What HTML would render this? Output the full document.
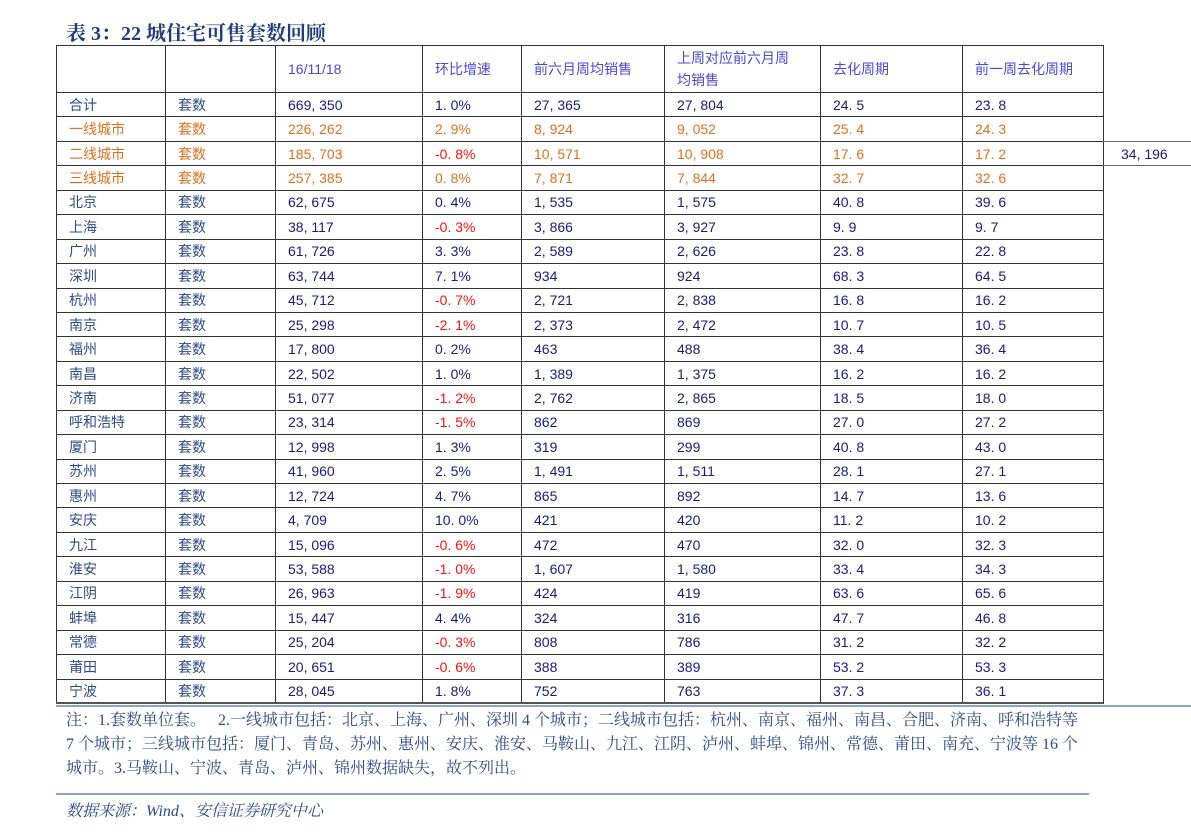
<!DOCTYPE html>
<html><head><meta charset="utf-8">
<style>
body{margin:0;width:1191px;height:836px;background:#fff;font-family:"Liberation Sans","Noto Sans CJK SC",sans-serif;position:relative;overflow:hidden}
#title{position:absolute;left:66px;top:17px;font-size:20px;font-weight:bold;color:#1f3d7a;font-family:"Liberation Serif","Noto Serif CJK SC",serif}
table{position:absolute;left:56px;top:45px;border-collapse:collapse;table-layout:fixed}
td{border:1.5px solid #333;font-size:14px;padding:0 0 0 12px;height:23.45px;white-space:nowrap;color:#1a1a80}
td.lab{color:#2d4a8a}
tr.hd td{height:46px;color:#4a4ad8;font-size:14px;line-height:22px;vertical-align:middle}
tr.or td{color:#e07020}
td.neg{color:#ff1010!important}
#extra{position:absolute;left:1103px;top:141px;width:88px;height:25px;border-top:1.5px solid #666;border-bottom:1.5px solid #666;font-size:14px;color:#1a1a80;line-height:25px;padding-left:18px;box-sizing:border-box}
#rule1{position:absolute;left:56px;top:702px;width:1047px;height:2px;background:#555}
#rule1b{position:absolute;left:56px;top:705px;width:1135px;height:2px;background:#8aa6d0}
.note{position:absolute;left:66px;font-size:16px;color:#2d4a8a;font-family:"Liberation Serif","Noto Serif CJK SC",serif;white-space:nowrap}
#rule2{position:absolute;left:56px;top:793px;width:1033px;height:2px;background:#8aa6d0}
#src{position:absolute;left:66px;top:798px;font-size:16px;color:#2d4a8a;font-style:italic;font-family:"Liberation Serif","Noto Serif CJK SC",serif}
</style></head><body>
<div id="title">表 3：22 城住宅可售套数回顾</div>
<table id="tbl">
<colgroup><col style="width:109px"><col style="width:110px"><col style="width:147px"><col style="width:99px"><col style="width:143px"><col style="width:156px"><col style="width:142px"><col style="width:141px"></colgroup>
<tr class="hd"><td></td><td></td><td>16/11/18</td><td>环比增速</td><td>前六月周均销售</td><td>上周对应前六月周<br>均销售</td><td>去化周期</td><td>前一周去化周期</td></tr>
</table>
<div id="extra">34, 196</div>
<div id="rule1"></div>
<div id="rule1b"></div>
<div class="note" style="top:707px">注：1.套数单位套。&nbsp;&nbsp; 2.一线城市包括：北京、上海、广州、深圳 4 个城市；二线城市包括：杭州、南京、福州、南昌、合肥、济南、呼和浩特等</div>
<div class="note" style="top:731px">7 个城市；三线城市包括：厦门、青岛、苏州、惠州、安庆、淮安、马鞍山、九江、江阴、泸州、蚌埠、锦州、常德、莆田、南充、宁波等 16 个</div>
<div class="note" style="top:755px">城市。3.马鞍山、宁波、青岛、泸州、锦州数据缺失，故不列出。</div>
<div id="rule2"></div>
<div id="src">数据来源：Wind、安信证券研究中心</div>
<script>
const cities=["合计","一线城市","二线城市","三线城市","北京","上海","广州","深圳","杭州","南京","福州","南昌","济南","呼和浩特","厦门","苏州","惠州","安庆","九江","淮安","江阴","蚌埠","常德","莆田","宁波"];
const stock=["669, 350","226, 262","185, 703","257, 385","62, 675","38, 117","61, 726","63, 744","45, 712","25, 298","17, 800","22, 502","51, 077","23, 314","12, 998","41, 960","12, 724","4, 709","15, 096","53, 588","26, 963","15, 447","25, 204","20, 651","28, 045"];
const growth=["1.0%","2.9%","-0.8%","0.8%","0.4%","-0.3%","3.3%","7.1%","-0.7%","-2.1%","0.2%","1.0%","-1.2%","-1.5%","1.3%","2.5%","4.7%","10.0%","-0.6%","-1.0%","-1.9%","4.4%","-0.3%","-0.6%","1.8%"];
const sales6m=["27, 365","8, 924","10, 571","7, 871","1, 535","3, 866","2, 589","934","2, 721","2, 373","463","1, 389","2, 762","862","319","1, 491","865","421","472","1, 607","424","324","808","388","752"];
const salesPrev=["27, 804","9, 052","10, 908","7, 844","1, 575","3, 927","2, 626","924","2, 838","2, 472","488","1, 375","2, 865","869","299","1, 511","892","420","470","1, 580","419","316","786","389","763"];
const cycle=["24.5","25.4","17.6","32.7","40.8","9.9","23.8","68.3","16.8","10.7","38.4","16.2","18.5","27.0","40.8","28.1","14.7","11.2","32.0","33.4","63.6","47.7","31.2","53.2","37.3"];
const cyclePrev=["23.8","24.3","17.2","32.6","39.6","9.7","22.8","64.5","16.2","10.5","36.4","16.2","18.0","27.2","43.0","27.1","13.6","10.2","32.3","34.3","65.6","46.8","32.2","53.3","36.1"];
const tbl=document.getElementById('tbl');
cities.forEach((c,i)=>{
  const tr=document.createElement('tr');
  
  
  if(i>=1&&i<=3)tr.className='or';
  const vals=[c,"套数",stock[i],growth[i],sales6m[i],salesPrev[i],cycle[i].replace('.','. '),cyclePrev[i].replace('.','. ')];
  vals.forEach((v,j)=>{
    const td=document.createElement('td');
    
    
    td.textContent=(j==3?v.replace('.','. '):v);
    if(j<2)td.className='lab';
    if(j==3&&v.startsWith('-'))td.className='neg';
    tr.appendChild(td);
  });
  tbl.appendChild(tr);
});
</script>
</body></html>
